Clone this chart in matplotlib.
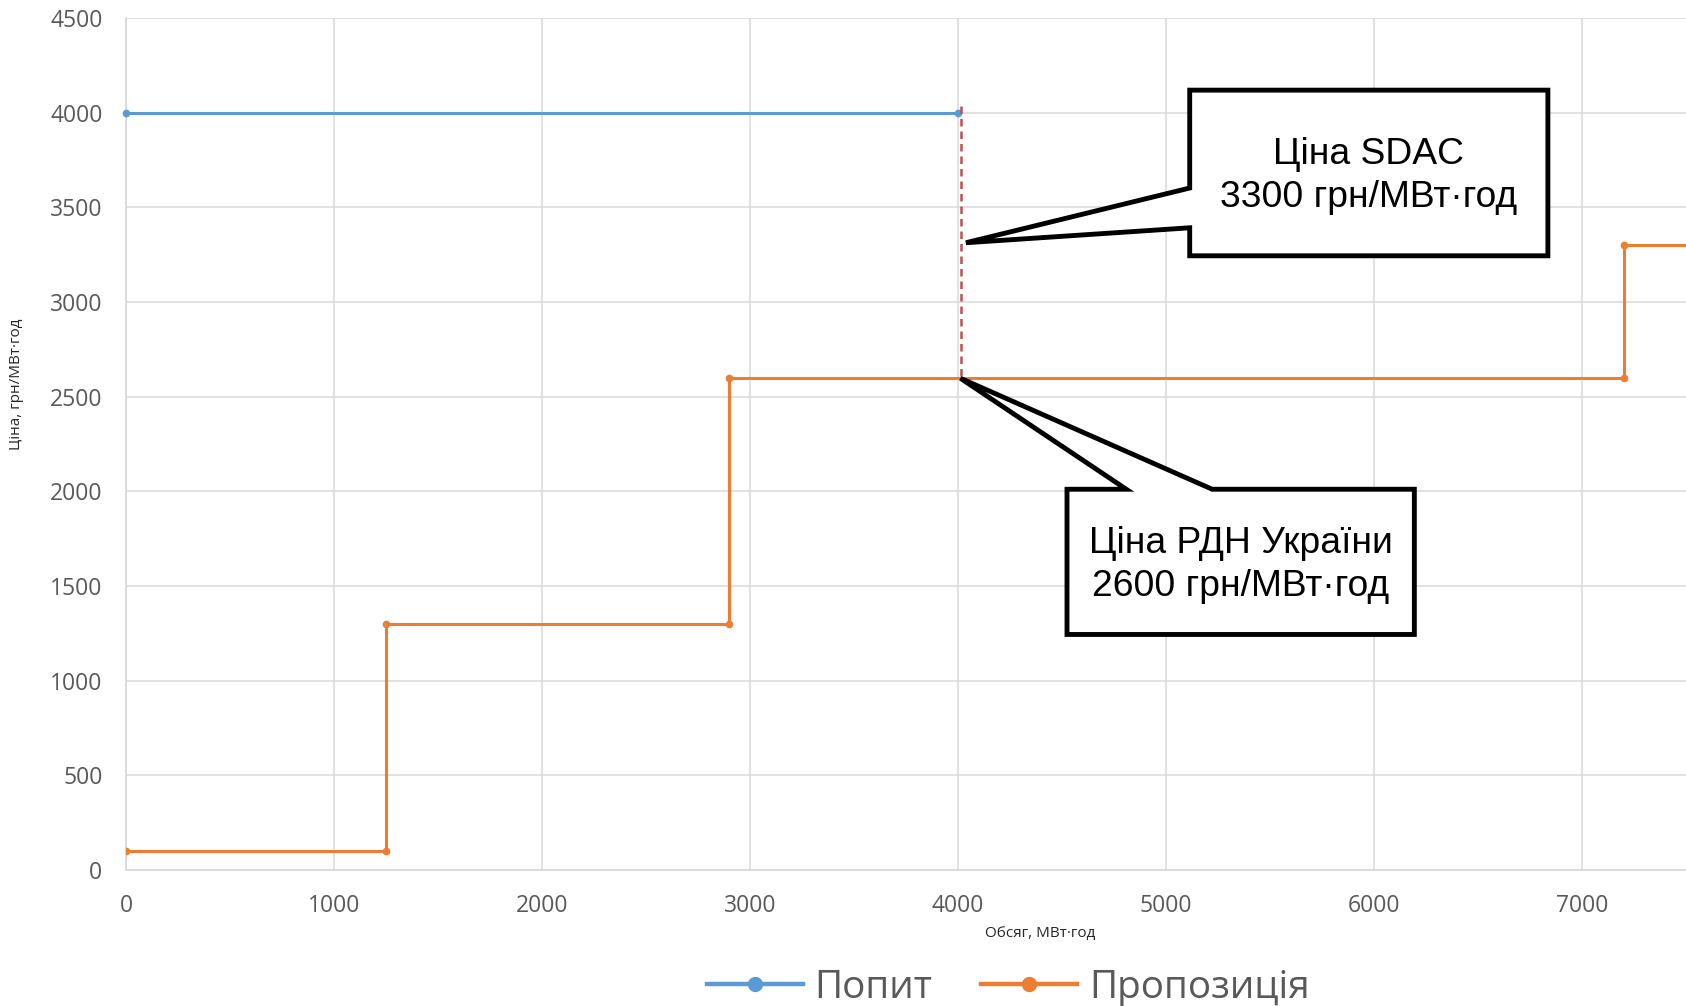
import matplotlib
matplotlib.use("Agg")
import matplotlib.pyplot as plt
from matplotlib.patches import Polygon

# ---- data ----
demand_x = [0, 4000]
demand_y = [4000, 4000]
supply_x = [0, 1250, 1250, 2900, 2900, 7200, 7200, 7600]
supply_y = [100, 100, 1300, 1300, 2600, 2600, 3300, 3300]
supply_marker_idx = [0, 1, 2, 3, 4, 5, 6]
sdac_price = 3300
rdn_price = 2600
clear_x = 4015
x_ticks = [0, 1000, 2000, 3000, 4000, 5000, 6000, 7000]
y_ticks = [0, 500, 1000, 1500, 2000, 2500, 3000, 3500, 4000, 4500]
label_demand = "Попит"
label_supply = "Пропозиція"
xlabel = "Обсяг, МВт·год"
ylabel = "Ціна, грн/МВт·год"
text_sdac = "Ціна SDAC\n3300 грн/МВт·год"
text_rdn = "Ціна РДН України\n2600 грн/МВт·год"

W, H = 1686, 1006
fig = plt.figure(figsize=(W / 100, H / 100), dpi=100)
left_px, right_px, top_px, bot_px = 126, 1686, 18, 870
ax = fig.add_axes([left_px / W, 1 - bot_px / H, (right_px - left_px) / W, (bot_px - top_px) / H])

blue = "#5B9BD5"
orange = "#ED7D31"
tick_col = "#595959"
grid_col = "#D9D9D9"

ax.set_xlim(0, 7500)
ax.set_ylim(0, 4500)
ax.set_xticks(x_ticks)
ax.set_yticks(y_ticks)
ax.grid(True, color=grid_col, linewidth=1.1, zorder=0)
ax.set_axisbelow(True)
for s in ["top", "right"]:
    ax.spines[s].set_visible(False)
for s in ["left", "bottom"]:
    ax.spines[s].set_color(grid_col)
    ax.spines[s].set_linewidth(1.3)
ax.tick_params(length=0, labelsize=16.5, labelcolor=tick_col)
ax.tick_params(axis="y", pad=17)
ax.tick_params(axis="x", pad=17)
for lab in ax.get_xticklabels() + ax.get_yticklabels():
    lab.set_fontfamily("Open Sans")

ax.plot(demand_x, demand_y, color=blue, lw=2.2, marker="o", ms=4.5, zorder=3, clip_on=False)
ax.plot(supply_x, supply_y, color=orange, lw=2.2, zorder=3, clip_on=True)
ax.plot([supply_x[i] for i in supply_marker_idx], [supply_y[i] for i in supply_marker_idx],
        ls="none", color=orange, marker="o", ms=4.5, zorder=3)

# dashed clearing line
ax.plot([clear_x, clear_x], [4035, rdn_price], color="#C0504D", lw=1.8, ls=(0, (3, 2)), zorder=4)

# legend proxies
h1, = ax.plot([], [], color=blue, lw=3.2, marker="o", ms=10)
h2, = ax.plot([], [], color=orange, lw=3.2, marker="o", ms=10)
leg = fig.legend([h1, h2], [label_demand, label_supply], loc="center",
                 bbox_to_anchor=(1008 / W, 1 - 988 / H), ncol=2, frameon=False,
                 prop={"family": "Open Sans", "size": 27.8}, handlelength=2.5,
                 columnspacing=1.25, handletextpad=0.3)
for t in leg.get_texts():
    t.set_color(tick_col)

ax.set_xlabel(xlabel, fontsize=11, family="Open Sans", color="#262626")
ax.xaxis.set_label_coords((1040 - left_px) / (right_px - left_px), -(926 - bot_px) / (bot_px - top_px))
ax.set_ylabel(ylabel, fontsize=11, family="Open Sans", color="#262626")
ax.yaxis.set_label_coords(-(left_px - 24) / (right_px - left_px), (bot_px - 384) / (bot_px - top_px))

# callouts
up = [(5114, 4119), (6836, 4119), (6836, 3244), (5114, 3244), (5114, 3392),
      (4038, sdac_price + 13), (5114, 3602)]
ax.add_patch(Polygon(up, closed=True, facecolor="white", edgecolor="black", lw=3.5,
                     joinstyle="miter", zorder=5, clip_on=False))
ax.text((5114 + 6836) / 2, (4119 + 3244) / 2 - 15, text_sdac, ha="center", va="center",
        fontsize=26.8, family="Liberation Sans", linespacing=1.3, zorder=6)

low = [(4524, 2011), (4809, 2011), (4012, rdn_price - 3), (5222, 2011), (6194, 2011),
       (6194, 1244), (4524, 1244)]
ax.add_patch(Polygon(low, closed=True, facecolor="white", edgecolor="black", lw=3.5,
                     joinstyle="miter", zorder=5, clip_on=False))
ax.text((4524 + 6194) / 2, (2011 + 1244) / 2 - 15, text_rdn, ha="center", va="center",
        fontsize=26.8, family="Liberation Sans", linespacing=1.3, zorder=6)

fig.savefig("out.png", dpi=100)
